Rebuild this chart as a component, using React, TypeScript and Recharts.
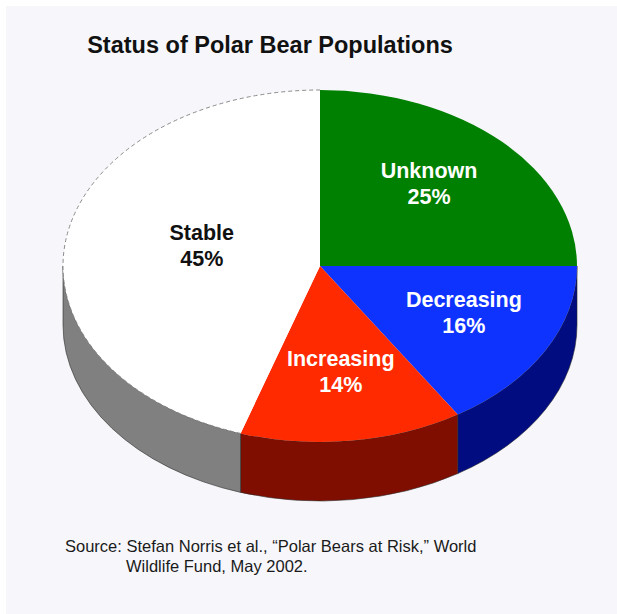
import React from 'react';
import { PieChart, Pie } from 'recharts';

// ---- data ----
const categories = ['Unknown', 'Decreasing', 'Increasing', 'Stable'];
const shares = [25, 16, 14, 45];

// ---- styling ----
const topColors = ['#008000', '#0f33ff', '#ff2a00', '#ffffff'];
const sideColors = ['#004000', '#000c80', '#800e00', '#808080'];
const labelColors = ['#ffffff', '#ffffff', '#ffffff', '#111111'];
const dashedRim = [false, false, false, true];

const TITLE = 'Status of Polar Bear Populations';
const SOURCE_LINES = [
  'Source: Stefan Norris et al., \u201CPolar Bears at Risk,\u201D World',
  'Wildlife Fund, May 2002.',
];

const data = categories.map((name, i) => ({ name, value: shares[i] }));

const W = 617;
const H = 614;
const CX = 320;
const CY = 266;
const RX = 257;
const Y_RATIO = 176 / 257;
const DEPTH = 59;
const FONT = '"Liberation Sans", Arial, Helvetica, sans-serif';

const RAD = Math.PI / 180;
const pt = (cx: number, cy: number, rx: number, ry: number, a: number) => ({
  x: cx + rx * Math.cos(a * RAD),
  y: cy - ry * Math.sin(a * RAD),
});

function arcPath(cx: number, cy: number, rx: number, ry: number, a1: number, a2: number, dy = 0) {
  const p2 = pt(cx, cy + dy, rx, ry, a2);
  const large = Math.abs(a1 - a2) > 180 ? 1 : 0;
  const sweep = a2 < a1 ? 1 : 0;
  return `A ${rx} ${ry} 0 ${large} ${sweep} ${p2.x} ${p2.y}`;
}

function frontRanges(s: number, e: number): [number, number][] {
  // Front half of the disc: sin(angle) < 0
  const hi = Math.max(s, e);
  const lo = Math.min(s, e);
  const out: [number, number][] = [];
  for (const [fHi, fLo] of [[0, -180], [360, 180], [-360, -540]] as [number, number][]) {
    const a = Math.min(hi, fHi);
    const b = Math.max(lo, fLo);
    if (a - b > 0.01) out.push([a, b]);
  }
  return out;
}

const renderSide = (props: any) => {
  const { cx, cy, outerRadius, startAngle, endAngle, index } = props;
  const rx = outerRadius;
  const ry = outerRadius * Y_RATIO;
  const ranges = frontRanges(startAngle, endAngle);
  return (
    <g key={`side-${index}`}>
      {ranges.map(([a, b], k) => {
        const p1 = pt(cx, cy, rx, ry, a);
        const p2b = pt(cx, cy + DEPTH, rx, ry, b);
        const d =
          `M ${p1.x} ${p1.y} ` +
          arcPath(cx, cy, rx, ry, a, b) +
          ` L ${p2b.x} ${p2b.y} ` +
          arcPath(cx, cy, rx, ry, b, a, DEPTH) +
          ' Z';
        return (
          <path
            key={k}
            d={d}
            fill={sideColors[index]}
            stroke="#2a2a2a"
            strokeWidth={0.6}
            strokeLinejoin="round"
          />
        );
      })}
    </g>
  );
};

const renderTop = (props: any) => {
  const { cx, cy, outerRadius, startAngle, endAngle, index, percent } = props;
  const rx = outerRadius;
  const ry = outerRadius * Y_RATIO;
  const p1 = pt(cx, cy, rx, ry, startAngle);
  const d = `M ${cx} ${cy} L ${p1.x} ${p1.y} ` + arcPath(cx, cy, rx, ry, startAngle, endAngle) + ' Z';
  const rim = `M ${p1.x} ${p1.y} ` + arcPath(cx, cy, rx, ry, startAngle, endAngle);
  // label at the centroid of the sector
  const theta = Math.abs(startAngle - endAngle) * RAD;
  const f = theta > 1e-6 ? (4 * Math.sin(theta / 2)) / (3 * theta) : 0.66;
  const mid = (startAngle + endAngle) / 2;
  const lp = pt(cx, cy, rx * f, ry * f, mid);
  return (
    <g key={`top-${index}`}>
      <path d={d} fill={topColors[index]} stroke="none" />
      {dashedRim[index] && (
        <path d={rim} fill="none" stroke="#8a8a8a" strokeWidth={1} strokeDasharray="4 3" />
      )}
      <text
        x={lp.x}
        y={lp.y}
        textAnchor="middle"
        fill={labelColors[index]}
        fontFamily={FONT}
        fontWeight="bold"
        fontSize={21.5}
      >
        <tspan x={lp.x} dy={-13}>{categories[index]}</tspan>
        <tspan x={lp.x} dy={26}>{`${Math.round(percent * 100)}%`}</tspan>
      </text>
    </g>
  );
};

export default function App() {
  return (
    <div
      style={{
        position: 'absolute',
        left: 0,
        top: 0,
        width: W,
        height: H,
        background: '#ffffff',
        overflow: 'hidden',
      }}
    >
      <div
        style={{
          position: 'absolute',
          left: 6,
          top: 6,
          width: W - 6,
          height: H - 6,
          background: '#f7f7fb',
        }}
      />
      <div style={{ position: 'absolute', left: 0, top: 0 }}>
        <PieChart width={W} height={H} margin={{ top: 0, right: 0, bottom: 0, left: 0 }}>
          <Pie
            data={data}
            dataKey="value"
            nameKey="name"
            cx={CX}
            cy={CY}
            outerRadius={RX}
            startAngle={90}
            endAngle={-270}
            fill="none"
            stroke="none"
            labelLine={false}
            label={renderSide}
            isAnimationActive={false}
          />
          <Pie
            data={data}
            dataKey="value"
            nameKey="name"
            cx={CX}
            cy={CY}
            outerRadius={RX}
            startAngle={90}
            endAngle={-270}
            fill="none"
            stroke="none"
            labelLine={false}
            label={renderTop}
            isAnimationActive={false}
          />
        </PieChart>
      </div>
      <svg
        width={W}
        height={H}
        style={{ position: 'absolute', left: 0, top: 0, pointerEvents: 'none' }}
      >
        <text
          x={270}
          y={53}
          textAnchor="middle"
          fontFamily={FONT}
          fontWeight="bold"
          fontSize={23.5}
          fill="#111111"
        >
          {TITLE}
        </text>
        <text x={65} y={552} fontFamily={FONT} fontSize={16.5} fill="#1a1a1a">
          {SOURCE_LINES[0]}
        </text>
        <text x={126} y={572} fontFamily={FONT} fontSize={16.5} fill="#1a1a1a">
          {SOURCE_LINES[1]}
        </text>
      </svg>
    </div>
  );
}
